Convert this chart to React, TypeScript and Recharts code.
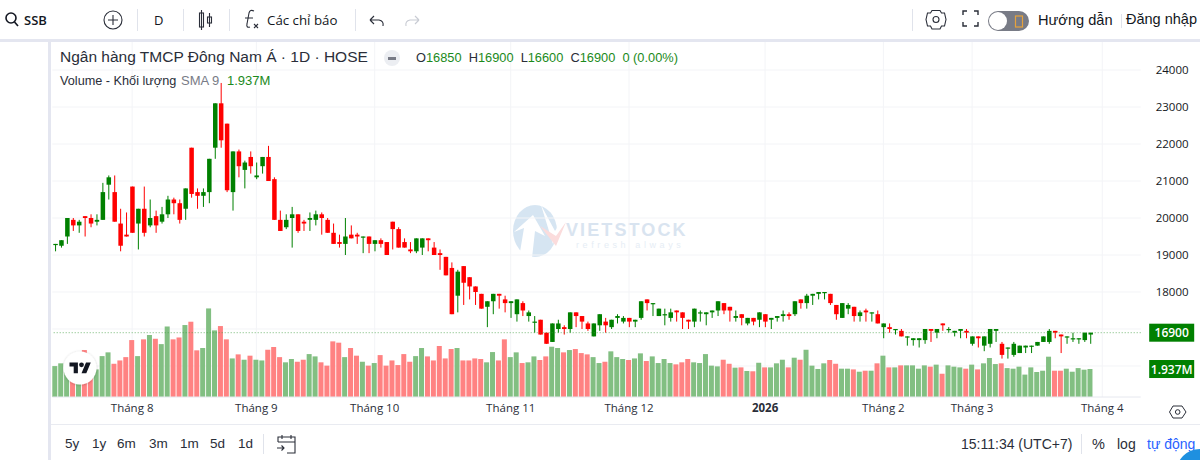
import React from "react";
import { ComposedChart, Bar, XAxis, YAxis, CartesianGrid, ReferenceLine } from "recharts";

const opens = [19300,19250,19500,19950,19800,20050,20000,19900,19950,20900,20700,19850,19550,20850,19850,20250,19800,20050,19900,20100,20500,20400,20250,21900,20700,20600,20700,21900,23100,22550,20700,21800,21300,21650,21100,21400,21650,21050,19950,19750,20000,20100,19900,
19950,19950,20100,19950,19600,19350,19300,19550,19550,19500,19500,19300,19400,19350,19900,19700,19350,19150,19100,19200,19450,19200,19050,18950,18650,17900,18700,18400,18150,17950,17600,17750,17950,17800,17700,17400,17700,17350,17200,17250,16900,16650,
17000,17050,17000,17450,17350,17150,16800,17100,17200,17050,17300,17200,17300,17200,17300,17800,17700,17350,17400,17300,17500,17450,17250,17200,17450,17400,17450,17500,17700,17600,17300,17400,17150,17300,17250,17400,17250,17300,17350,17400,17400,17800,17700,17900,17950,18000,
17950,17650,17300,17550,17600,17350,17500,17450,17400,17050,17050,17000,16950,16800,16700,16700,16700,17000,16900,17150,17000,16900,16950,16950,16600,16800,16550,16600,16950,16600,16500,16300,16350,16500,16550,16550,16650,16650,16950,16850,16800,16750,16750,16700,16850];
const highs = [19300,19400,20000,20000,19950,20050,20100,20100,20950,21150,21150,20250,20150,20850,20250,20850,20500,20200,20300,20600,20550,20500,20800,21900,20800,20800,21600,23100,23650,22550,21800,21850,21550,21800,21500,21650,21950,21100,20200,20100,20300,20100,19950,
20150,20200,20150,20000,19850,19550,20000,19800,19600,19500,19500,19400,19450,19350,19900,19750,19450,19350,19450,19450,19450,19350,19150,18950,18800,18600,18700,18400,18150,17950,17750,17950,17950,17900,17750,17800,17750,17500,17350,17250,16900,17150,
17250,17100,17450,17450,17350,17200,17150,17400,17300,17250,17400,17350,17300,17250,17750,17800,17700,17550,17550,17550,17500,17450,17250,17550,17500,17450,17500,17750,17700,17600,17500,17400,17300,17300,17450,17400,17300,17350,17500,17450,17750,17800,17950,17950,18000,18000,
17950,17650,17700,17700,17600,17500,17550,17450,17500,17150,17150,17000,17000,16800,16750,16750,17000,17000,17000,17150,17050,16950,17000,17000,16800,16800,16800,17000,17000,16650,16500,16650,16550,16550,16550,16650,16800,17000,16950,16850,16800,16900,16750,16900,16900];
const lows = [19100,19200,19300,19650,19600,19500,19750,19800,19950,20500,19900,19100,19500,19600,19150,19500,19750,19600,19850,20000,20100,19850,19950,20550,20250,20300,20400,21600,21900,20700,20200,21100,20800,21200,21050,21200,21000,19950,19650,19700,19200,19600,19650,
19650,19800,19550,19600,19300,19200,19000,19450,19300,19050,19050,19100,19200,19000,19150,19200,19200,19050,19050,19000,19100,19000,18600,18450,17400,17450,17650,17800,17650,17550,17050,17400,17550,17450,17300,17200,17350,17200,16900,16850,16600,16650,
16900,16850,16900,17050,17000,16950,16800,16950,16900,17000,17150,17150,17050,17050,17250,17500,17350,17350,17100,17200,17200,17000,17000,17050,17200,17100,17300,17350,17400,17200,17200,17100,17100,17100,17050,17050,17000,17200,17200,17250,17350,17550,17550,17650,17800,17800,
17650,17250,17300,17400,17200,17200,17200,17200,17150,16750,16900,16850,16800,16550,16550,16500,16600,16650,16750,16950,16900,16800,16750,16750,16550,16500,16400,16500,16650,16200,16200,16250,16350,16350,16350,16550,16650,16600,16750,16350,16600,16650,16600,16650,16600];
const closes = [19300,19400,20000,19800,19900,20000,19850,19950,20700,21100,19900,19250,19500,19600,20250,19600,20000,19800,20100,20500,20400,19950,20800,20650,20600,20700,21600,23100,22100,20750,21800,21400,21500,21400,21150,21650,21000,19950,19650,19950,20100,19650,19850,
20000,20100,20000,19600,19300,19300,19500,19450,19500,19500,19300,19400,19300,19000,19700,19200,19200,19100,19450,19450,19400,19000,19000,18450,17400,18550,18250,18150,18000,17550,17750,17950,17900,17700,17750,17800,17500,17450,17200,16850,16600,17150,
17150,17000,17450,17350,17200,17000,17150,17400,17100,17250,17350,17300,17200,17250,17750,17700,17700,17550,17400,17450,17450,17300,17200,17550,17450,17450,17500,17750,17500,17500,17350,17300,17300,17200,17450,17200,17300,17350,17400,17350,17750,17700,17900,17950,18000,18000,
17700,17400,17700,17650,17350,17450,17450,17450,17150,17150,17000,17000,16800,16800,16750,16750,17000,16950,17000,17100,17000,16950,17000,16900,16800,16750,16800,17000,17000,16300,16500,16600,16550,16550,16550,16650,16800,16950,16900,16800,16800,16750,16750,16900,16900];
const volumes = [2.14,2.33,2.21,2.1,1.87,3.25,2.44,1.91,2.83,3.09,2.3,2.53,2.76,3.94,2.83,3.99,4.29,4.03,3.66,4.88,3.99,4.12,4.98,5.21,3.23,3.39,6.13,4.61,4.91,3.99,2.67,2.95,2.58,2.86,2.58,2.53,3.27,3.46,2.76,2.4,2.63,2.44,2.58,2.97,2.81,2.4,2.17,3.85,3.76,2.76,3.39,
2.86,2.44,2.17,2.35,2.9,2.17,2.53,2.21,2.97,2.44,2.83,3.39,2.81,2.53,3.53,2.67,3.32,3.39,2.53,2.53,2.67,2.63,2.4,3.11,2.53,3.99,2.76,3.09,2.35,2.4,2.81,2.56,2.81,3.48,3.39,3.09,3.25,3.32,3.04,2.95,2.76,2.35,2.44,3.16,2.76,2.63,2.56,2.67,3.02,2.49,2.81,2.35,2.63,2.35,2.26,2.4,2.63,2.4,2.35,2.97,2.17,
2.12,2.58,2.3,2.03,2.05,1.8,1.78,2.37,2.05,2.05,2.33,2.58,2.05,2.72,2.58,3.27,2.17,1.94,2.33,2.56,2.3,1.96,1.96,1.91,1.75,1.82,1.82,2.33,2.86,2.05,2.05,2.19,2.19,2.19,1.96,2.19,2.1,2.24,1.61,2.19,2.1,2.05,1.96,2.24,1.91,2.33,2.7,2.28,2.33,2,1.96,2.1,1.55,2.05,1.73,1.82,2.79,1.82,1.82,1.96,1.75,2,1.89,1.937];

const TOTAL_SLOTS = 184;
const monthSlots = [14, 35, 55, 78, 98, 121, 141, 156, 178];
const monthLabels = ["Tháng 8", "Tháng 9", "Tháng 10", "Tháng 11", "Tháng 12", "2026", "Tháng 2", "Tháng 3", "Tháng 4"];
const priceTicks = [18000, 19000, 20000, 21000, 22000, 23000, 24000];
const priceGrid = [16000, 17000, ...priceTicks];
const rangeButtons = ["5y", "1y", "6m", "3m", "1m", "5d", "1d"];
const rangeX = [65, 92, 117, 149, 180, 210, 238];
const lastPrice = 16900;
const lastVolume = 1.937;

const UP = "#008000";
const DOWN = "#ff0000";
const UP_V = "#82bf82";
const DOWN_V = "#ff8282";

type Row = { slot: number; o?: number; h?: number; l?: number; c?: number; v?: number };
const rows: Row[] = [];
for (let s = 1; s <= TOTAL_SLOTS; s++) {
  const i = s - 1;
  rows.push(i < opens.length ? { slot: s, o: opens[i], h: highs[i], l: lows[i], c: closes[i], v: volumes[i] } : { slot: s });
}

const Candle = (p: any) => {
  const { x, y, width, height, payload } = p;
  if (payload == null || payload.o == null || !Number.isFinite(y) || !Number.isFinite(height)) return null;
  const { o, h, l, c } = payload;
  const pos = (val: number) => (h === l ? y : y + ((h - val) / (h - l)) * height);
  const col = c >= o ? UP : DOWN;
  const top = pos(Math.max(o, c));
  const bot = pos(Math.min(o, c));
  const cx = x + width / 2;
  return (
    <g>
      <rect x={cx - 0.5} y={y} width={1} height={Math.max(height, 1)} fill={col} />
      <rect x={x} y={top} width={width} height={Math.max(bot - top, 1.2)} fill={col} />
    </g>
  );
};

const VolBar = (p: any) => {
  const { x, y, width, height, payload } = p;
  if (payload == null || payload.v == null) return null;
  return <rect x={x} y={y} width={width} height={height} fill={payload.c >= payload.o ? UP_V : DOWN_V} />;
};

const MonthTick = (p: any) => {
  const { x, y, payload } = p;
  const idx = monthSlots.indexOf(payload.value);
  const label = monthLabels[idx];
  return (
    <text x={x} y={y + 7} textAnchor="middle" fontFamily="'Open Sans', sans-serif" fontSize={11.5} fontWeight={label === "2026" ? 700 : 400} fill="#2a2e39">
      {label}
    </text>
  );
};

const BoxLabel = (text: string) => (props: any) => {
  const vb = props.viewBox;
  const bx = vb.x + vb.width + 8.5;
  return (
    <g>
      <rect x={bx} y={vb.y - 9} width={45} height={18} fill={UP} />
      <text x={bx + 22.5} y={vb.y + 4.5} textAnchor="middle" fill="#fff" fontSize={12} fontWeight={600} fontFamily="'Open Sans', sans-serif">
        {text}
      </text>
    </g>
  );
};

const T = ({ x, y, s, c = "#131722", f = "'Liberation Sans', Arial", w = 400, children, extra }: any) => (
  <div style={{ position: "absolute", left: x, top: y, fontSize: s, color: c, fontFamily: f, fontWeight: w, whiteSpace: "nowrap", lineHeight: "16px", ...extra }}>{children}</div>
);

const Sep = ({ x, y, h }: any) => <div style={{ position: "absolute", left: x, top: y, width: 1, height: h, background: "#e0e3eb" }} />;

const ic = { fill: "none", stroke: "#2a2e39", strokeWidth: 1.1 };

export default function App() {
  return (
    <div style={{ position: "fixed", left: 0, top: 0, width: 1200, height: 460, overflow: "hidden", background: "#fff" }}>
      {/* watermark */}
      <svg style={{ position: "absolute", left: 0, top: 0 }} width={1200} height={460}>
        <ellipse cx={535} cy={231} rx={22} ry={26} fill="#cfe0f0" opacity={0.85} />
        <path d="M519 258 L524 228 L514 232 L533 215 L545 236 L535 231 L532 258 Z" fill="#fff" />
        <path d="M541 205 L555 231 L567 212 L553 244 Z" fill="#fff" />
        <path d="M540 226 L556 236 L566 222 L556 246 Z" fill="#fbdcdc" />
        <text x={566} y={236} fontFamily="'Liberation Sans', Arial" fontWeight={700} fontSize={18} letterSpacing={2.1} fill="#d9e4f0">VIETSTOCK</text>
        <text x={576} y={248} fontFamily="'Liberation Sans', Arial" fontSize={9} letterSpacing={3.6} fill="#e6edf5">refresh always</text>
      </svg>

      <div style={{ position: "absolute", left: 0, top: 0 }}>
        <ComposedChart
          width={1200}
          height={460}
          data={rows}
          margin={{ top: 42, left: 52.3, right: 0, bottom: 33 }}
          barCategoryGap={0}
          barGap={0}
        >
          <CartesianGrid stroke="#f3f4f7" strokeWidth={1} horizontalValues={priceGrid} verticalValues={monthSlots} />
          <XAxis
            dataKey="slot"
            type="category"
            ticks={monthSlots}
            interval={0}
            height={30}
            tickLine={false}
            axisLine={{ stroke: "#e6e8ef" }}
            tick={<MonthTick />}
            allowDuplicatedCategory={false}
          />
          <XAxis dataKey="slot" type="category" xAxisId="vx" hide allowDuplicatedCategory={false} />
          <YAxis
            orientation="right"
            width={59.3}
            domain={[15162, 24757]}
            allowDataOverflow
            ticks={priceTicks}
            interval={0}
            tickLine={false}
            axisLine={false}
            tickMargin={9}
            tick={{ fill: "#131722", fontSize: 11.5, fontFamily: "'Open Sans', sans-serif" }}
          />
          <YAxis yAxisId="v" orientation="right" hide domain={[0, 24.57]} allowDataOverflow />
          <Bar dataKey="v" xAxisId="vx" yAxisId="v" barSize={5} shape={<VolBar />} isAnimationActive={false} />
          <Bar dataKey={(d: Row) => (d.h == null ? null : [d.l, d.h])} barSize={4.5} shape={<Candle />} isAnimationActive={false} />
          <ReferenceLine y={lastPrice} stroke="#3c9a3c" strokeOpacity={0.7} strokeDasharray="1 2" label={BoxLabel("16900")} />
          <ReferenceLine y={lastVolume} yAxisId="v" xAxisId="vx" stroke="none" label={BoxLabel("1.937M")} />
        </ComposedChart>
      </div>

      {/* frame bands */}
      <div style={{ position: "absolute", left: 0, top: 39, width: 1200, height: 3, background: "#e4e6f0" }} />
      <div style={{ position: "absolute", left: 48, top: 42, width: 3, height: 418, background: "#e4e6f0" }} />
      <div style={{ position: "absolute", left: 51, top: 424, width: 1149, height: 1, background: "#e9ebf1" }} />

      {/* top toolbar */}
      <svg style={{ position: "absolute", left: 0, top: 0 }} width={1200} height={40}>
        <circle cx={11} cy={18} r={5} fill="none" stroke="#131722" strokeWidth={1.6} />
        <line x1={14.5} y1={22} x2={18} y2={26} stroke="#131722" strokeWidth={1.6} />
        <circle cx={113} cy={20} r={9} {...ic} />
        <path d="M113 15 V25 M108 20 H118" {...ic} />
        <rect x={199.5} y={13} width={4} height={14} {...ic} />
        <path d="M201.5 10 V30 M209.5 13 V27" {...ic} />
        <rect x={207.5} y={17} width={4} height={6} {...ic} />
        <path d="M250 27 Q246 28 247 24 L249 13 Q250 9 254 11" {...ic} />
        <path d="M245 18 H253 M254 24 L258 28 M258 24 L254 28" {...ic} />
        <path d="M370 20 L374 16 M370 20 L374 24 M370 20 H379 Q384 21 383 26" {...ic} />
        <path d="M419 20 L415 16 M419 20 L415 24 M419 20 H410 Q405 21 406 26" fill="none" stroke="#c8cbd3" strokeWidth={1.1} />
        <circle cx={936} cy={19.5} r={3} {...ic} />
        <path d="M932 10.5 H940 L941.5 13 L944.5 13 L946 19.5 L944.5 26 L941.5 26 L940 29 H932 L930.5 26 L927.5 26 L926 19.5 L927.5 13 L930.5 13 Z" {...ic} />
        <path d="M963 15 V11 H967 M974 11 H978 V15 M978 22 V26 H974 M967 26 H963 V22" {...ic} strokeWidth={1.4} />
        <rect x={988} y={11} width={41} height={20} rx={10} fill="#787b86" />
        <circle cx={998} cy={21} r={9} fill="#fff" />
        <rect x={1015.5} y={16} width={7} height={11} fill="none" stroke="#e6a23c" strokeWidth={1.2} />
      </svg>
      <T x={24} y={12} s={13} w={600} f="'Open Sans', sans-serif">SSB</T>
      <T x={154} y={12} s={13} f="'Open Sans', sans-serif" w={500}>D</T>
      <T x={267} y={12} s={13.3} f="'Open Sans', sans-serif">Các chỉ báo</T>
      <T x={1038} y={12} s={14.6}>Hướng dẫn</T>
      <T x={1126} y={11} s={14.5}>Đăng nhập</T>
      <Sep x={137} y={9} h={22} />
      <Sep x={183} y={9} h={22} />
      <Sep x={229} y={9} h={22} />
      <Sep x={355} y={9} h={22} />
      <Sep x={912} y={9} h={22} />
      <Sep x={1121} y={14} h={14} />

      {/* legend */}
      <T x={60} y={49} s={15.5} c="#2a2e39">Ngân hàng TMCP Đông Nam Á · 1D · HOSE</T>
      <div style={{ position: "absolute", left: 384, top: 50, width: 16, height: 16, borderRadius: 8, background: "#eceef2" }}>
        <div style={{ position: "absolute", left: 4, top: 7, width: 8, height: 2.5, background: "#787b86" }} />
      </div>
      <div style={{ position: "absolute", left: 416, top: 50, fontSize: 12.8, lineHeight: "16px", fontFamily: "'Liberation Sans', Arial", color: "#2a2e39", whiteSpace: "nowrap" }}>
        O<span style={{ color: "#1b8a1b" }}>16850</span>&nbsp; H<span style={{ color: "#1b8a1b" }}>16900</span>&nbsp; L<span style={{ color: "#1b8a1b" }}>16600</span>&nbsp; C<span style={{ color: "#1b8a1b" }}>16900</span>&nbsp; <span style={{ color: "#1b8a1b" }}>0 (0.00%)</span>
      </div>
      <T x={60} y={73} s={12.7} c="#2a2e39">Volume - Khối lượng</T>
      <T x={181} y={73} s={13} c="#787b86">SMA 9</T>
      <T x={227} y={73} s={13} c="#1b8a1b">1.937M</T>

      {/* tv logo */}
      <svg style={{ position: "absolute", left: 60, top: 348 }} width={40} height={40}>
        <defs>
          <filter id="sh" x="-20%" y="-20%" width="140%" height="140%">
            <feDropShadow dx="0" dy="0.5" stdDeviation="1" floodColor="#000" floodOpacity="0.25" />
          </filter>
        </defs>
        <circle cx={20} cy={20} r={16.5} fill="#fff" filter="url(#sh)" />
        <g transform="translate(9.5,12) scale(0.6)">
          <path d="M14 22H7V11H0V4h14v18zM28 22h-8l7.5-18h8L28 22z" fill="#131722" />
          <circle cx={20} cy={8} r={4} fill="#131722" />
        </g>
      </svg>

      {/* settings hexagon */}
      <svg style={{ position: "absolute", left: 1168, top: 402 }} width={20} height={20}>
        <path d="M5 4 H14 L18 10 L14 16 H5 L1.5 10 Z" fill="none" stroke="#2a2e39" strokeWidth={1} />
        <circle cx={9.7} cy={10} r={2.3} fill="none" stroke="#2a2e39" strokeWidth={1} />
      </svg>

      {/* bottom bar */}
      {rangeButtons.map((b, i) => (
        <T key={b} x={rangeX[i]} y={436} s={13.5} c="#2a2e39">{b}</T>
      ))}
      <Sep x={263} y={434} h={20} />
      <svg style={{ position: "absolute", left: 275, top: 433 }} width={24} height={22}>
        <path d="M3 9 V4 H20 V20 H12 M3 9 H20 M7 2 V6 M16 2 V6 M2 15 H9 M6.5 12.5 L9 15 L6.5 17.5" fill="none" stroke="#2a2e39" strokeWidth={1.1} />
      </svg>
      <T x={961} y={436} s={14} c="#2a2e39">15:11:34 (UTC+7)</T>
      <Sep x={1081} y={434} h={20} />
      <T x={1092} y={436} s={14.5} c="#2a2e39">%</T>
      <T x={1117} y={436} s={14} c="#2a2e39">log</T>
      <T x={1147} y={436} s={14} c="#2962ff">tự động</T>
      <div style={{ position: "absolute", left: 1176, top: 449, width: 48, height: 48, borderRadius: 24, background: "#1e90e0" }} />
    </div>
  );
}
